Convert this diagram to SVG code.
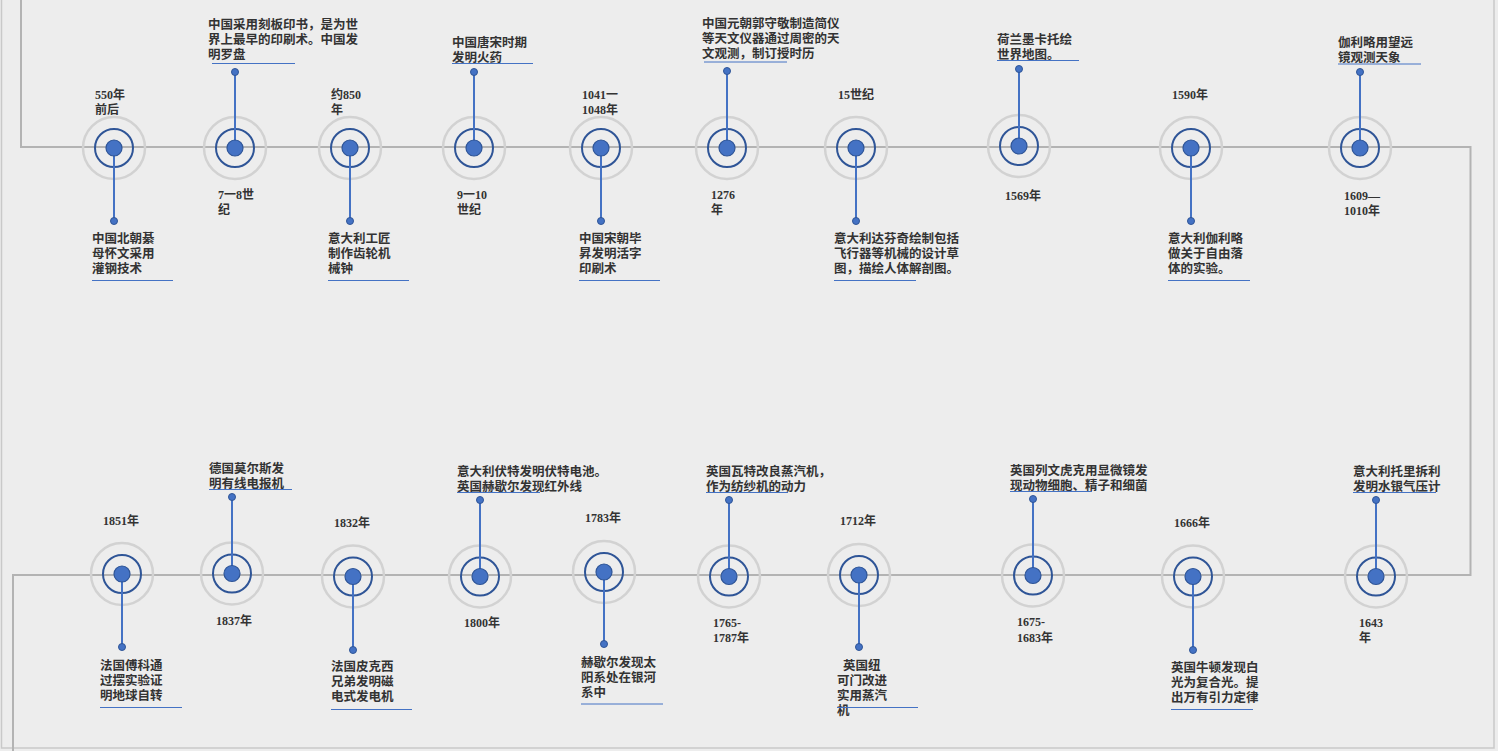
<svg xmlns="http://www.w3.org/2000/svg" width="1498" height="751" viewBox="0 0 1498 751">
<style>
.bg{fill:#ededed}
.frame{fill:none;stroke:#c9c9c9;stroke-width:1.5}
.tl{fill:none;stroke:#b3b3b3;stroke-width:2}
.outer{fill:none;stroke:#d2d2d2;stroke-width:2.5}
.ring{fill:none;stroke:#2f5597;stroke-width:2}
.dot{fill:#4472c4;stroke:#2f5597;stroke-width:1.2}
.stem{stroke:#4472c4;stroke-width:2}
.pin{fill:#4472c4;stroke:#2f5597;stroke-width:1}
.ul{stroke:#4472c4;stroke-width:1}
text{font-family:"Liberation Serif","Noto Sans CJK SC",serif;font-weight:700;fill:#333}
.t{font-size:12.5px}
.d{font-size:12px}
</style>
<rect class="bg" x="0" y="0" width="1498" height="751"/>
<rect class="frame" x="1.5" y="-2" width="1492.5" height="750"/>
<g id="connectors">
<path class="tl" d="M21,0 V147 H1470.5 V575 H13 V751"/>
</g>
<g id="n1">
<circle class="outer" cx="114" cy="148" r="31"/><circle class="ring" cx="114" cy="148" r="19"/>
<line class="stem" x1="114" y1="148" x2="114" y2="221"/><circle class="dot" cx="114" cy="148" r="8"/><circle class="pin" cx="114" cy="221" r="3.5"/>
<text class="d" x="95" y="99">550年</text><text class="d" x="95" y="114">前后</text>
<text class="t" x="92" y="243">中国北朝綦</text><text class="t" x="92" y="258">母怀文采用</text><text class="t" x="92" y="273">灌钢技术</text>
<line class="ul" x1="92" y1="280.5" x2="173" y2="280.5"/>
</g>
<g id="n2">
<circle class="outer" cx="235" cy="148" r="31"/><circle class="ring" cx="235" cy="148" r="19"/>
<line class="stem" x1="235" y1="148" x2="235" y2="72"/><circle class="dot" cx="235" cy="148" r="8"/><circle class="pin" cx="235" cy="72" r="3.5"/>
<text class="t" x="208" y="29">中国采用刻板印书，是为世</text><text class="t" x="208" y="44">界上最早的印刷术。中国发</text><text class="t" x="208" y="59">明罗盘</text>
<line class="ul" x1="212" y1="63.5" x2="295" y2="63.5"/>
<text class="d" x="218" y="199">7一8世</text><text class="d" x="218" y="214">纪</text>
</g>
<g id="n3">
<circle class="outer" cx="350" cy="148" r="31"/><circle class="ring" cx="350" cy="148" r="19"/>
<line class="stem" x1="350" y1="148" x2="350" y2="221"/><circle class="dot" cx="350" cy="148" r="8"/><circle class="pin" cx="350" cy="221" r="3.5"/>
<text class="d" x="331" y="99">约850</text><text class="d" x="331" y="114">年</text>
<text class="t" x="328" y="243">意大利工匠</text><text class="t" x="328" y="258">制作齿轮机</text><text class="t" x="328" y="273">械钟</text>
<line class="ul" x1="328" y1="280.5" x2="409" y2="280.5"/>
</g>
<g id="n4">
<circle class="outer" cx="474" cy="148" r="31"/><circle class="ring" cx="474" cy="148" r="19"/>
<line class="stem" x1="474" y1="148" x2="474" y2="72"/><circle class="dot" cx="474" cy="148" r="8"/><circle class="pin" cx="474" cy="72" r="3.5"/>
<text class="t" x="452" y="47">中国唐宋时期</text><text class="t" x="452" y="61.5">发明火药</text>
<line class="ul" x1="452" y1="63.5" x2="533" y2="63.5"/>
<text class="d" x="457" y="199">9一10</text><text class="d" x="457" y="214">世纪</text>
</g>
<g id="n5">
<circle class="outer" cx="601" cy="148" r="31"/><circle class="ring" cx="601" cy="148" r="19"/>
<line class="stem" x1="601" y1="148" x2="601" y2="221"/><circle class="dot" cx="601" cy="148" r="8"/><circle class="pin" cx="601" cy="221" r="3.5"/>
<text class="d" x="582" y="99">1041一</text><text class="d" x="582" y="114">1048年</text>
<text class="t" x="579" y="243">中国宋朝毕</text><text class="t" x="579" y="258">昇发明活字</text><text class="t" x="579" y="273">印刷术</text>
<line class="ul" x1="579" y1="280.5" x2="660" y2="280.5"/>
</g>
<g id="n6">
<circle class="outer" cx="727" cy="148" r="31"/><circle class="ring" cx="727" cy="148" r="19"/>
<line class="stem" x1="727" y1="148" x2="727" y2="71"/><circle class="dot" cx="727" cy="148" r="8"/><circle class="pin" cx="727" cy="71" r="3.5"/>
<text class="t" x="702" y="28">中国元朝郭守敬制造简仪</text><text class="t" x="702" y="43">等天文仪器通过周密的天</text><text class="t" x="702" y="58">文观测，制订授时历</text>
<line class="ul" x1="704" y1="62" x2="787" y2="62"/>
<text class="d" x="711" y="199">1276</text><text class="d" x="711" y="214">年</text>
</g>
<g id="n7">
<circle class="outer" cx="856" cy="148" r="31"/><circle class="ring" cx="856" cy="148" r="19"/>
<line class="stem" x1="856" y1="148" x2="856" y2="221"/><circle class="dot" cx="856" cy="148" r="8"/><circle class="pin" cx="856" cy="221" r="3.5"/>
<text class="d" x="838" y="99">15世纪</text>
<text class="t" x="834" y="243">意大利达芬奇绘制包括</text><text class="t" x="834" y="258">飞行器等机械的设计草</text><text class="t" x="834" y="273">图，描绘人体解剖图。</text>
<line class="ul" x1="834" y1="280.5" x2="916" y2="280.5"/>
</g>
<g id="n8">
<circle class="outer" cx="1019" cy="146" r="31"/><circle class="ring" cx="1019" cy="146" r="19"/>
<line class="stem" x1="1019" y1="146" x2="1019" y2="69"/><circle class="dot" cx="1019" cy="146" r="8"/><circle class="pin" cx="1019" cy="69" r="3.5"/>
<text class="t" x="997" y="44">荷兰墨卡托绘</text><text class="t" x="997" y="58.5">世界地图。</text>
<line class="ul" x1="997" y1="60.5" x2="1079" y2="60.5"/>
<text class="d" x="1005" y="199.5">1569年</text>
</g>
<g id="n9">
<circle class="outer" cx="1191" cy="148" r="31"/><circle class="ring" cx="1191" cy="148" r="19"/>
<line class="stem" x1="1191" y1="148" x2="1191" y2="221"/><circle class="dot" cx="1191" cy="148" r="8"/><circle class="pin" cx="1191" cy="221" r="3.5"/>
<text class="d" x="1172" y="99">1590年</text>
<text class="t" x="1168" y="243">意大利伽利略</text><text class="t" x="1168" y="258">做关于自由落</text><text class="t" x="1168" y="273">体的实验。</text>
<line class="ul" x1="1168" y1="280.5" x2="1250" y2="280.5"/>
</g>
<g id="n10">
<circle class="outer" cx="1360" cy="148" r="31"/><circle class="ring" cx="1360" cy="148" r="19"/>
<line class="stem" x1="1360" y1="148" x2="1360" y2="72"/><circle class="dot" cx="1360" cy="148" r="8"/><circle class="pin" cx="1360" cy="72" r="3.5"/>
<text class="t" x="1338" y="47">伽利略用望远</text><text class="t" x="1338" y="62">镜观测天象</text>
<line class="ul" x1="1338" y1="64" x2="1421" y2="64"/>
<text class="d" x="1344" y="199.5">1609—</text><text class="d" x="1344" y="214.5">1010年</text>
</g>
<g id="b1">
<circle class="outer" cx="122" cy="574" r="31"/><circle class="ring" cx="122" cy="574" r="19"/>
<line class="stem" x1="122" y1="574" x2="122" y2="647"/><circle class="dot" cx="122" cy="574" r="8"/><circle class="pin" cx="122" cy="647" r="3.5"/>
<text class="d" x="103" y="524.5">1851年</text>
<text class="t" x="100" y="670">法国傅科通</text><text class="t" x="100" y="685">过摆实验证</text><text class="t" x="100" y="700">明地球自转</text>
<line class="ul" x1="100" y1="707.5" x2="182" y2="707.5"/>
</g>
<g id="b2">
<circle class="outer" cx="232" cy="573.5" r="31"/><circle class="ring" cx="232" cy="573.5" r="19"/>
<line class="stem" x1="232" y1="573.5" x2="232" y2="497"/><circle class="dot" cx="232" cy="573.5" r="8"/><circle class="pin" cx="232" cy="497" r="3.5"/>
<text class="t" x="209" y="473">德国莫尔斯发</text><text class="t" x="209" y="488">明有线电报机</text>
<line class="ul" x1="209" y1="489.5" x2="292" y2="489.5"/>
<text class="d" x="216" y="624.5">1837年</text>
</g>
<g id="b3">
<circle class="outer" cx="353" cy="576.5" r="31"/><circle class="ring" cx="353" cy="576.5" r="19"/>
<line class="stem" x1="353" y1="576.5" x2="353" y2="650"/><circle class="dot" cx="353" cy="576.5" r="8"/><circle class="pin" cx="353" cy="650" r="3.5"/>
<text class="d" x="334" y="527">1832年</text>
<text class="t" x="331" y="671">法国皮克西</text><text class="t" x="331" y="686">兄弟发明磁</text><text class="t" x="331" y="701">电式发电机</text>
<line class="ul" x1="331" y1="709.5" x2="412" y2="709.5"/>
</g>
<g id="b4">
<circle class="outer" cx="480" cy="576.5" r="31"/><circle class="ring" cx="480" cy="576.5" r="19"/>
<line class="stem" x1="480" y1="576.5" x2="480" y2="500"/><circle class="dot" cx="480" cy="576.5" r="8"/><circle class="pin" cx="480" cy="500" r="3.5"/>
<text class="t" x="457" y="475.5">意大利伏特发明伏特电池。</text><text class="t" x="457" y="491">英国赫歇尔发现红外线</text>
<line class="ul" x1="457" y1="492.5" x2="540" y2="492.5"/>
<text class="d" x="464" y="627">1800年</text>
</g>
<g id="b5">
<circle class="outer" cx="604" cy="572" r="31"/><circle class="ring" cx="604" cy="572" r="19"/>
<line class="stem" x1="604" y1="572" x2="604" y2="644"/><circle class="dot" cx="604" cy="572" r="8"/><circle class="pin" cx="604" cy="644" r="3.5"/>
<text class="d" x="585" y="522">1783年</text>
<text class="t" x="581" y="667">赫歇尔发现太</text><text class="t" x="581" y="682">阳系处在银河</text><text class="t" x="581" y="697">系中</text>
<line class="ul" x1="581" y1="704" x2="663" y2="704"/>
</g>
<g id="b6">
<circle class="outer" cx="729" cy="576.5" r="31"/><circle class="ring" cx="729" cy="576.5" r="19"/>
<line class="stem" x1="729" y1="576.5" x2="729" y2="500"/><circle class="dot" cx="729" cy="576.5" r="8"/><circle class="pin" cx="729" cy="500" r="3.5"/>
<text class="t" x="706" y="475.5">英国瓦特改良蒸汽机，</text><text class="t" x="706" y="490.5">作为纺纱机的动力</text>
<line class="ul" x1="706" y1="492.5" x2="788" y2="492.5"/>
<text class="d" x="713" y="627">1765-</text><text class="d" x="713" y="642">1787年</text>
</g>
<g id="b7">
<circle class="outer" cx="859" cy="575" r="31"/><circle class="ring" cx="859" cy="575" r="19"/>
<line class="stem" x1="859" y1="575" x2="859" y2="647"/><circle class="dot" cx="859" cy="575" r="8"/><circle class="pin" cx="859" cy="647" r="3.5"/>
<text class="d" x="840" y="524.5">1712年</text>
<text class="t" x="843" y="669.5">英国纽</text><text class="t" x="837" y="684.5">可门改进</text><text class="t" x="837" y="699.5">实用蒸汽</text><text class="t" x="837" y="714.5">机</text>
<line class="ul" x1="837" y1="707.5" x2="918" y2="707.5"/>
</g>
<g id="b8">
<circle class="outer" cx="1033" cy="575.5" r="31"/><circle class="ring" cx="1033" cy="575.5" r="19"/>
<line class="stem" x1="1033" y1="575.5" x2="1033" y2="499"/><circle class="dot" cx="1033" cy="575.5" r="8"/><circle class="pin" cx="1033" cy="499" r="3.5"/>
<text class="t" x="1010" y="474.5">英国列文虎克用显微镜发</text><text class="t" x="1010" y="490">现动物细胞、精子和细菌</text>
<line class="ul" x1="1010" y1="491.5" x2="1092" y2="491.5"/>
<text class="d" x="1017" y="626">1675-</text><text class="d" x="1017" y="641.5">1683年</text>
</g>
<g id="b9">
<circle class="outer" cx="1193" cy="576.5" r="31"/><circle class="ring" cx="1193" cy="576.5" r="19"/>
<line class="stem" x1="1193" y1="576.5" x2="1193" y2="650"/><circle class="dot" cx="1193" cy="576.5" r="8"/><circle class="pin" cx="1193" cy="650" r="3.5"/>
<text class="d" x="1174" y="527">1666年</text>
<text class="t" x="1171" y="672">英国牛顿发现白</text><text class="t" x="1171" y="687">光为复合光。提</text><text class="t" x="1171" y="702">出万有引力定律</text>
<line class="ul" x1="1171" y1="709.5" x2="1253" y2="709.5"/>
</g>
<g id="b10">
<circle class="outer" cx="1376" cy="576.5" r="31"/><circle class="ring" cx="1376" cy="576.5" r="19"/>
<line class="stem" x1="1376" y1="576.5" x2="1376" y2="500"/><circle class="dot" cx="1376" cy="576.5" r="8"/><circle class="pin" cx="1376" cy="500" r="3.5"/>
<text class="t" x="1353" y="475.5">意大利托里拆利</text><text class="t" x="1353" y="491">发明水银气压计</text>
<line class="ul" x1="1353" y1="492.5" x2="1436" y2="492.5"/>
<text class="d" x="1359" y="627">1643</text><text class="d" x="1359" y="642">年</text>
</g>
</svg>
